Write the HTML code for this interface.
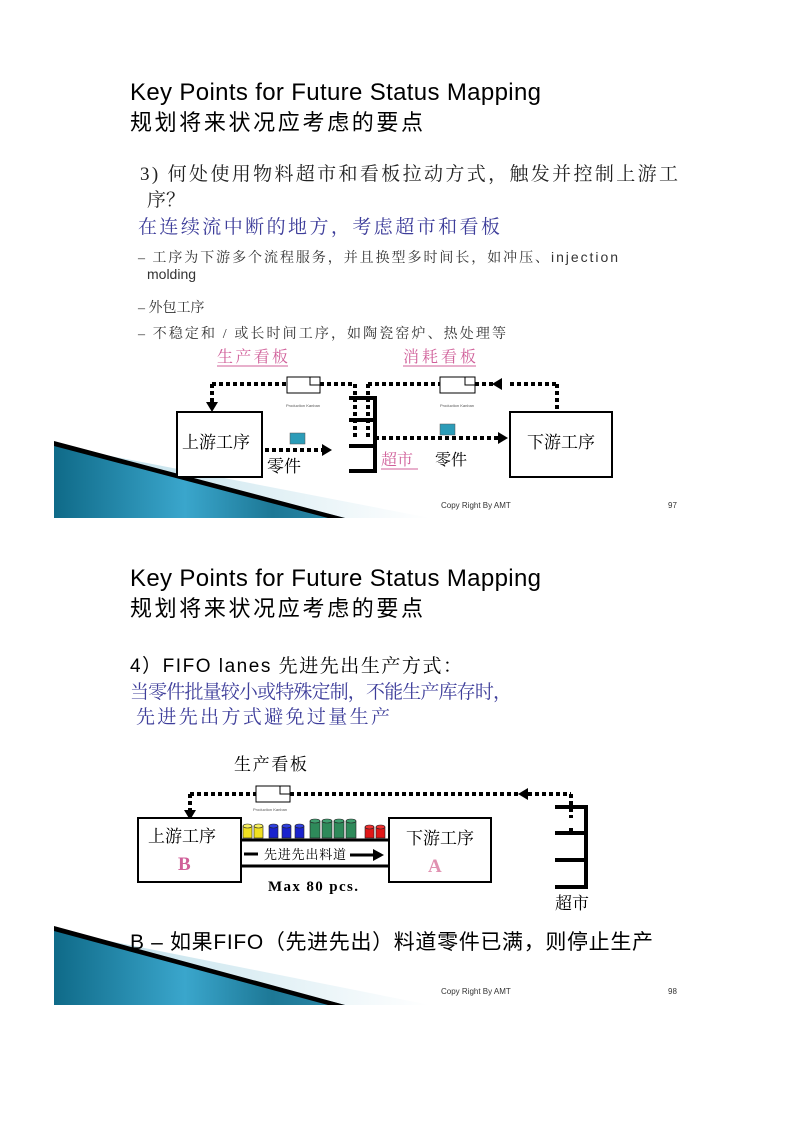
<!DOCTYPE html>
<html><head><meta charset="utf-8"><style>
html,body{margin:0;padding:0;background:#fff}
svg{display:block}
text{font-family:"Liberation Sans","Noto Sans CJK SC",sans-serif}
.s{font-family:"Liberation Serif","Noto Serif CJK SC",serif}
</style></head><body>
<svg width="794" height="1123" viewBox="0 0 794 1123" xmlns="http://www.w3.org/2000/svg">
<defs>
<linearGradient id="bl" x1="0" y1="0" x2="1" y2="0">
<stop offset="0" stop-color="#0f6a88"/><stop offset="0.45" stop-color="#3aa6cc"/><stop offset="0.75" stop-color="#1d7896"/><stop offset="1" stop-color="#2c88a8"/>
</linearGradient>
<linearGradient id="fd" x1="0" y1="0" x2="1" y2="0">
<stop offset="0" stop-color="#b8dce8"/><stop offset="1" stop-color="#ffffff"/>
</linearGradient>
</defs>

<!-- Slide 1 wedge -->
<polygon points="54,445 430,518 54,518" fill="url(#fd)"/>
<polygon points="54,445 345,518 54,518" fill="url(#bl)"/>
<polygon points="54,441 345,518 328,518 54,446" fill="#000"/>
<!-- Slide 2 wedge -->
<polygon points="54,930 430,1005 54,1005" fill="url(#fd)"/>
<polygon points="54,930 345,1005 54,1005" fill="url(#bl)"/>
<polygon points="54,926 345,1005 328,1005 54,931" fill="#000"/>

<!-- Slide 1 text -->
<text x="130" y="100" font-size="24" fill="#000" textLength="411">Key Points for Future Status Mapping</text>
<text x="130" y="130" font-size="22" fill="#000" textLength="293">规划将来状况应考虑的要点</text>
<text x="140" y="180" font-size="19" fill="#222" textLength="538" class="s">3) 何处使用物料超市和看板拉动方式，触发并控制上游工</text>
<text x="147" y="206" font-size="19" fill="#222" class="s">序？</text>
<text x="138" y="233" font-size="19" fill="#3d3d9a" textLength="362" class="s">在连续流中断的地方，考虑超市和看板</text>
<text x="138" y="262" font-size="14" fill="#333" textLength="480" class="s">– 工序为下游多个流程服务，并且换型多时间长，如冲压、<tspan font-family="Liberation Sans">injection</tspan></text>
<text x="147" y="279" font-size="14" fill="#333">molding</text>
<text x="138" y="312" font-size="14" fill="#333" class="s">– 外包工序</text>
<text x="138" y="338" font-size="14" fill="#333" textLength="368" class="s">– 不稳定和 / 或长时间工序，如陶瓷窑炉、热处理等</text>
<text x="217" y="362" font-size="16" fill="#d0609a" textLength="71" class="s">生产看板</text>
<line x1="217" y1="366" x2="288" y2="366" stroke="#d0609a" stroke-width="1"/>
<text x="403" y="362" font-size="16" fill="#d0609a" textLength="73" class="s">消耗看板</text>
<line x1="403" y1="366" x2="476" y2="366" stroke="#d0609a" stroke-width="1"/>

<!-- Slide 1 diagram -->
<g stroke="#000" stroke-width="4" stroke-dasharray="4,3" fill="none">
<line x1="212" y1="384" x2="287" y2="384"/>
<line x1="320" y1="384" x2="355" y2="384"/>
<line x1="212" y1="384" x2="212" y2="402"/>
<line x1="355" y1="384" x2="355" y2="440"/>
<line x1="368" y1="384" x2="368" y2="440"/>
<line x1="368" y1="384" x2="440" y2="384"/>
<line x1="475" y1="384" x2="500" y2="384"/>
<line x1="510" y1="384" x2="557" y2="384"/>
<line x1="557" y1="384" x2="557" y2="410"/>
<line x1="375" y1="438" x2="498" y2="438"/>
<line x1="265" y1="450" x2="322" y2="450"/>
</g>
<polygon points="206,402 218,402 212,412" fill="#000"/>
<polygon points="492,384 502,378 502,390" fill="#000"/>
<polygon points="498,432 508,438 498,444" fill="#000"/>
<polygon points="322,444 332,450 322,456" fill="#000"/>
<rect x="287" y="377" width="33" height="16" fill="#fff" stroke="#000"/>
<polyline points="310,377 310,385 320,385" fill="none" stroke="#000"/>
<rect x="440" y="377" width="35" height="16" fill="#fff" stroke="#000"/>
<polyline points="465,377 465,385 475,385" fill="none" stroke="#000"/>
<text x="286" y="407" font-size="4" fill="#555">Production Kanban</text>
<text x="440" y="407" font-size="4" fill="#555">Production Kanban</text>
<g stroke="#000" stroke-width="4">
<line x1="375" y1="396" x2="375" y2="473"/>
<line x1="349" y1="398" x2="377" y2="398"/>
<line x1="349" y1="420" x2="377" y2="420"/>
<line x1="349" y1="446" x2="377" y2="446"/>
<line x1="349" y1="471" x2="377" y2="471"/>
</g>
<rect x="177" y="412" width="85" height="65" fill="#fff" stroke="#000" stroke-width="2"/>
<text x="182" y="448" font-size="17" class="s">上游工序</text>
<rect x="510" y="412" width="102" height="65" fill="#fff" stroke="#000" stroke-width="2"/>
<text x="527" y="448" font-size="17" class="s">下游工序</text>
<rect x="290" y="433" width="15" height="11" fill="#2c9cb8" stroke="#555" stroke-width="0.5"/>
<rect x="440" y="424" width="15" height="11" fill="#2c9cb8" stroke="#555" stroke-width="0.5"/>
<text x="267" y="472" font-size="17" class="s">零件</text>
<text x="381" y="465" font-size="16" class="s" fill="#d0609a">超市</text>
<line x1="381" y1="469" x2="418" y2="469" stroke="#d0609a"/>
<text x="435" y="465" font-size="16" class="s">零件</text>
<text x="441" y="508" font-size="8" fill="#333">Copy Right By AMT</text>
<text x="668" y="508" font-size="8" fill="#333">97</text>

<!-- Slide 2 text -->
<text x="130" y="586" font-size="24" fill="#000" textLength="411">Key Points for Future Status Mapping</text>
<text x="130" y="616" font-size="22" fill="#000" textLength="293">规划将来状况应考虑的要点</text>
<text x="130" y="672" font-size="19" fill="#000" textLength="332">4）FIFO lanes <tspan class="s">先进先出生产方式：</tspan></text>
<text x="130" y="698" font-size="19" fill="#3d3d9a" textLength="382" class="s">当零件批量较小或特殊定制，不能生产库存时，</text>
<text x="136" y="723" font-size="19" fill="#3d3d9a" textLength="254" class="s">先进先出方式避免过量生产</text>
<text x="234" y="770" font-size="17" class="s" textLength="73">生产看板</text>

<!-- Slide 2 diagram -->
<g stroke="#000" stroke-width="4" stroke-dasharray="4,3" fill="none">
<line x1="190" y1="794" x2="256" y2="794"/>
<line x1="290" y1="794" x2="518" y2="794"/>
<line x1="528" y1="794" x2="571" y2="794"/>
<line x1="571" y1="794" x2="571" y2="818"/>
<line x1="190" y1="794" x2="190" y2="810"/>
</g>
<rect x="569" y="828" width="4" height="4" fill="#000"/>
<polygon points="184,810 196,810 190,820" fill="#000"/>
<polygon points="518,794 528,788 528,800" fill="#000"/>
<rect x="256" y="786" width="34" height="16" fill="#fff" stroke="#000"/>
<polyline points="280,786 280,794 290,794" fill="none" stroke="#000"/>
<text x="253" y="811" font-size="4" fill="#555">Production Kanban</text>
<g stroke="#000" stroke-width="4">
<line x1="586" y1="805" x2="586" y2="889"/>
<line x1="555" y1="807" x2="588" y2="807"/>
<line x1="555" y1="833" x2="588" y2="833"/>
<line x1="555" y1="860" x2="588" y2="860"/>
<line x1="555" y1="887" x2="588" y2="887"/>
</g>
<text x="555" y="909" font-size="17" class="s">超市</text>
<rect x="138" y="818" width="103" height="64" fill="#fff" stroke="#000" stroke-width="2"/>
<rect x="389" y="818" width="102" height="64" fill="#fff" stroke="#000" stroke-width="2"/>
<line x1="241" y1="840" x2="389" y2="840" stroke="#000" stroke-width="3"/>
<line x1="241" y1="866" x2="389" y2="866" stroke="#000" stroke-width="3"/>
<g stroke="#222" stroke-width="0.6">
<rect x="243" y="826" width="9" height="12" fill="#f0e020"/><ellipse cx="247.5" cy="826" rx="4.5" ry="2" fill="#f8f060"/>
<rect x="254" y="826" width="9" height="12" fill="#f0e020"/><ellipse cx="258.5" cy="826" rx="4.5" ry="2" fill="#f8f060"/>
<rect x="269" y="826" width="9" height="12" fill="#1a22cc"/><ellipse cx="273.5" cy="826" rx="4.5" ry="2" fill="#3040e0"/>
<rect x="282" y="826" width="9" height="12" fill="#1a22cc"/><ellipse cx="286.5" cy="826" rx="4.5" ry="2" fill="#3040e0"/>
<rect x="295" y="826" width="9" height="12" fill="#1a22cc"/><ellipse cx="299.5" cy="826" rx="4.5" ry="2" fill="#3040e0"/>
<rect x="310" y="821" width="10" height="17" fill="#2e8a5a"/><ellipse cx="315" cy="821" rx="5" ry="2" fill="#40a070"/>
<rect x="322" y="821" width="10" height="17" fill="#2e8a5a"/><ellipse cx="327" cy="821" rx="5" ry="2" fill="#40a070"/>
<rect x="334" y="821" width="10" height="17" fill="#2e8a5a"/><ellipse cx="339" cy="821" rx="5" ry="2" fill="#40a070"/>
<rect x="346" y="821" width="10" height="17" fill="#2e8a5a"/><ellipse cx="351" cy="821" rx="5" ry="2" fill="#40a070"/>
<rect x="365" y="827" width="9" height="11" fill="#e01818"/><ellipse cx="369.5" cy="827" rx="4.5" ry="2" fill="#f03030"/>
<rect x="376" y="827" width="9" height="11" fill="#e01818"/><ellipse cx="380.5" cy="827" rx="4.5" ry="2" fill="#f03030"/>
</g>
<line x1="244" y1="854" x2="258" y2="854" stroke="#000" stroke-width="3"/>
<text x="264" y="859" font-size="13" class="s" textLength="82">先进先出料道</text>
<line x1="350" y1="855" x2="375" y2="855" stroke="#000" stroke-width="3"/>
<polygon points="373,849 384,855 373,861" fill="#000"/>
<text x="148" y="842" font-size="17" class="s">上游工序</text>
<text x="178" y="870" font-size="19" class="s" font-weight="bold" fill="#d0609a">B</text>
<text x="406" y="844" font-size="17" class="s">下游工序</text>
<text x="428" y="872" font-size="19" class="s" font-weight="bold" fill="#e090b0">A</text>
<text x="268" y="891" font-size="15" class="s" font-weight="bold" textLength="90">Max 80 pcs.</text>
<text x="130" y="949" font-size="21" fill="#000" textLength="523">B – 如果FIFO（先进先出）料道零件已满，则停止生产</text>
<text x="441" y="994" font-size="8" fill="#333">Copy Right By AMT</text>
<text x="668" y="994" font-size="8" fill="#333">98</text>
</svg>
</body></html>
